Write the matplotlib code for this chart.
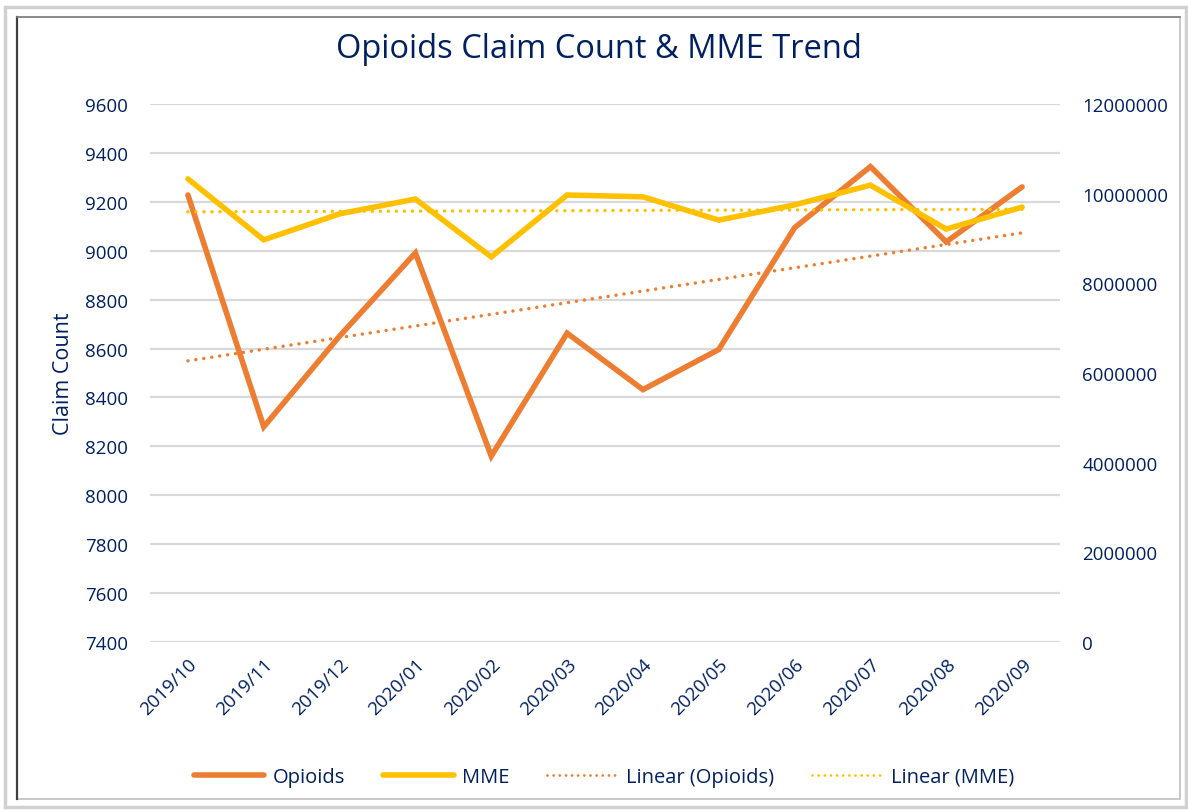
import numpy as np
import matplotlib
matplotlib.use("Agg")
import matplotlib.pyplot as plt
from matplotlib.patches import Rectangle
from matplotlib.lines import Line2D
from matplotlib.ticker import FuncFormatter

months = ["2019/10", "2019/11", "2019/12", "2020/01", "2020/02", "2020/03",
          "2020/04", "2020/05", "2020/06", "2020/07", "2020/08", "2020/09"]
opioids = [9228, 8280, 8651, 8991, 8160, 8663, 8432, 8596, 9094, 9344, 9036, 9261]
mme = [10330000, 8970000, 9550000, 9880000, 8590000, 9970000,
       9930000, 9410000, 9750000, 10190000, 9210000, 9700000]
left_ticks = list(range(7400, 9601, 200))
right_ticks = list(range(0, 12000001, 2000000))

NAVY = "#002060"
ORANGE = "#ED7D31"
YELLOW = "#FFC000"
plt.rcParams["font.family"] = ["Open Sans", "DejaVu Sans"]

W, H = 1188, 812
fig = plt.figure(figsize=(W / 100, H / 100), dpi=100)

# frame
fig.patches.append(Rectangle((5 / W, 1 - 808 / H), 1181 / W, 800 / H, transform=fig.transFigure,
                             fill=False, edgecolor="#D0D0D0", lw=2.5))
fig.patches.append(Rectangle((17 / W, 1 - 800 / H), 1163 / W, 782 / H, transform=fig.transFigure,
                             fill=False, edgecolor="#BFBFBF", lw=1.2))
fig.add_artist(Line2D([17 / W, 17 / W], [1 - 800 / H, 1 - 18 / H], transform=fig.transFigure,
                      color="#404040", lw=1.6))
fig.add_artist(Line2D([17 / W, 1180 / W], [1 - 18 / H, 1 - 18 / H], transform=fig.transFigure,
                      color="#808080", lw=1.2))

ax = fig.add_axes([150 / W, 1 - 643 / H, 910 / W, 538 / H])
ax2 = ax.twinx()
x = np.arange(len(months))

ax.set_ylim(7400, 9600)
ax.set_yticks(left_ticks)
ax2.set_ylim(0, 12000000)
ax2.set_yticks(right_ticks)
ax2.yaxis.set_major_formatter(FuncFormatter(lambda v, p: f"{int(round(v))}"))
ax.set_xlim(-0.5, len(months) - 0.5)
ax.set_xticks(x)
ax.set_xticklabels(months, rotation=45, ha="right", rotation_mode="anchor",
                   fontsize=13.5, color=NAVY)
ax.grid(axis="y", color="#D9D9D9", lw=1.6)
ax.set_axisbelow(True)
for a in (ax, ax2):
    for s in a.spines.values():
        s.set_visible(False)
ax.tick_params(axis="both", length=0, colors=NAVY)
ax.tick_params(axis="y", pad=16, labelsize=13.5)
ax.tick_params(axis="x", pad=9)
ax2.tick_params(axis="y", length=0, colors=NAVY, labelsize=13.5, pad=16)
ax.set_ylabel("Claim Count", color=NAVY, fontsize=15.5, labelpad=8)

# trend lines (Excel linear trendline = least squares fit)
po = np.polyfit(x, opioids, 1)
pm = np.polyfit(x, mme, 1)

dots = (0, (0.01, 2.3))
l1, = ax.plot(x, opioids, color=ORANGE, lw=4, solid_joinstyle="miter", solid_capstyle="round", zorder=3)
l3, = ax.plot(x, np.polyval(po, x), color=ORANGE, lw=2.5, ls=dots, dash_capstyle="round", zorder=2)
l2, = ax2.plot(x, mme, color=YELLOW, lw=4, solid_joinstyle="miter", solid_capstyle="round", zorder=3)
l4, = ax2.plot(x, np.polyval(pm, x), color=YELLOW, lw=2.5, ls=dots, dash_capstyle="round", zorder=2)

fig.text(599 / W, 1 - 50 / H, "Opioids Claim Count & MME Trend", ha="center", va="center",
         fontsize=23.5, color=NAVY)

h3 = Line2D([], [], color=ORANGE, lw=2, ls=(0, (0.01, 2.2)), dash_capstyle="round")
h4 = Line2D([], [], color=YELLOW, lw=2, ls=(0, (0.01, 2.2)), dash_capstyle="round")
leg = fig.legend([l1, l2, h3, h4], ["Opioids", "MME", "Linear (Opioids)", "Linear (MME)"],
                 loc="center", bbox_to_anchor=(604 / W, 1 - 778 / H), ncol=4, frameon=False,
                 fontsize=14.5, handlelength=3.5, columnspacing=1.9, handletextpad=0.4)
for t in leg.get_texts():
    t.set_color(NAVY)

fig.savefig("out.png", dpi=100)
